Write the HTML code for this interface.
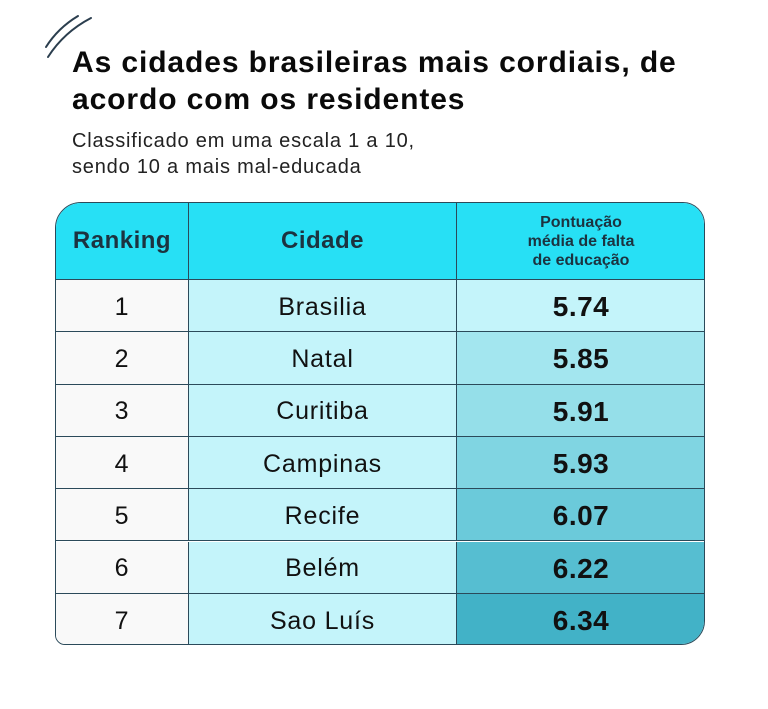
<!DOCTYPE html>
<html><head><meta charset="utf-8"><style>
body{margin:0;width:768px;height:709px;background:#fff;font-family:"Liberation Sans",sans-serif;position:relative;overflow:hidden}
.t{position:absolute;left:72px;top:44px;font-size:30px;font-weight:bold;line-height:37px;color:#0a0a0a;letter-spacing:0.9px;white-space:nowrap}
.s{position:absolute;left:72px;top:128px;font-size:20px;line-height:26px;color:#222;letter-spacing:0.8px}
.tb{position:absolute;left:55px;top:202px;width:648px;height:441px;border:1px solid #2b4a5a;border-radius:26px 22px 24px 10px;overflow:hidden}
.c{position:absolute;display:flex;align-items:center;justify-content:center;box-sizing:border-box;border-right:1px solid #2b4a5a;border-bottom:1px solid #2b4a5a;color:#111;font-size:25px;letter-spacing:0.8px;padding-top:3px}
.h{background:#27e0f5;color:#1c3340;font-weight:bold;font-size:24px;letter-spacing:0.5px;padding-top:0}
</style></head><body>
<svg style="position:absolute;left:0;top:0" width="100" height="70"><path d="M46 47 Q58 28 78 16" stroke="#2b3e4e" stroke-width="2" fill="none" stroke-linecap="round"/><path d="M48 57 Q64 32 91 18" stroke="#2b3e4e" stroke-width="2" fill="none" stroke-linecap="round"/></svg>
<div class="t">As cidades brasileiras mais cordiais, de<br>acordo com os residentes</div>
<div class="s">Classificado em uma escala 1 a 10,<br>sendo 10 a mais mal-educada</div>
<div class="tb">
<div class="c h" style="left:0;top:0;width:133px;height:77px">Ranking</div>
<div class="c h" style="left:133px;top:0;width:268px;height:77px">Cidade</div>
<div class="c h" style="left:401px;top:0;width:248px;height:77px;font-size:16px;line-height:19px;text-align:center;border-right:none;letter-spacing:0">Pontuação<br>média de falta<br>de educação</div>
</div>
<script>
var tb=document.querySelector('.tb');
var d=[["1","Brasilia","5.74","#c4f4fa"],["2","Natal","5.85","#a3e6ef"],["3","Curitiba","5.91","#95dfe9"],["4","Campinas","5.93","#80d5e2"],["5","Recife","6.07","#6bcada"],["6","Belém","6.22","#56bed1"],["7","Sao Luís","6.34","#42b2c7"]];
var h="";for(var i=0;i<7;i++){var y=77+i*52.3,hh=52.3;var bb=i==6?"border-bottom:none;":"";
h+='<div class="c" style="'+bb+'left:0;top:'+y+'px;width:133px;height:'+hh+'px;background:#f9f9f9">'+d[i][0]+'</div>';
h+='<div class="c" style="'+bb+'left:133px;top:'+y+'px;width:268px;height:'+hh+'px;background:#c4f4fa">'+d[i][1]+'</div>';
h+='<div class="c" style="'+bb+'border-right:none;left:401px;top:'+y+'px;width:248px;height:'+hh+'px;background:'+d[i][3]+';font-weight:bold;font-size:28px;letter-spacing:0.5px">'+d[i][2]+'</div>';}
tb.insertAdjacentHTML('beforeend',h);
</script>
</body></html>
